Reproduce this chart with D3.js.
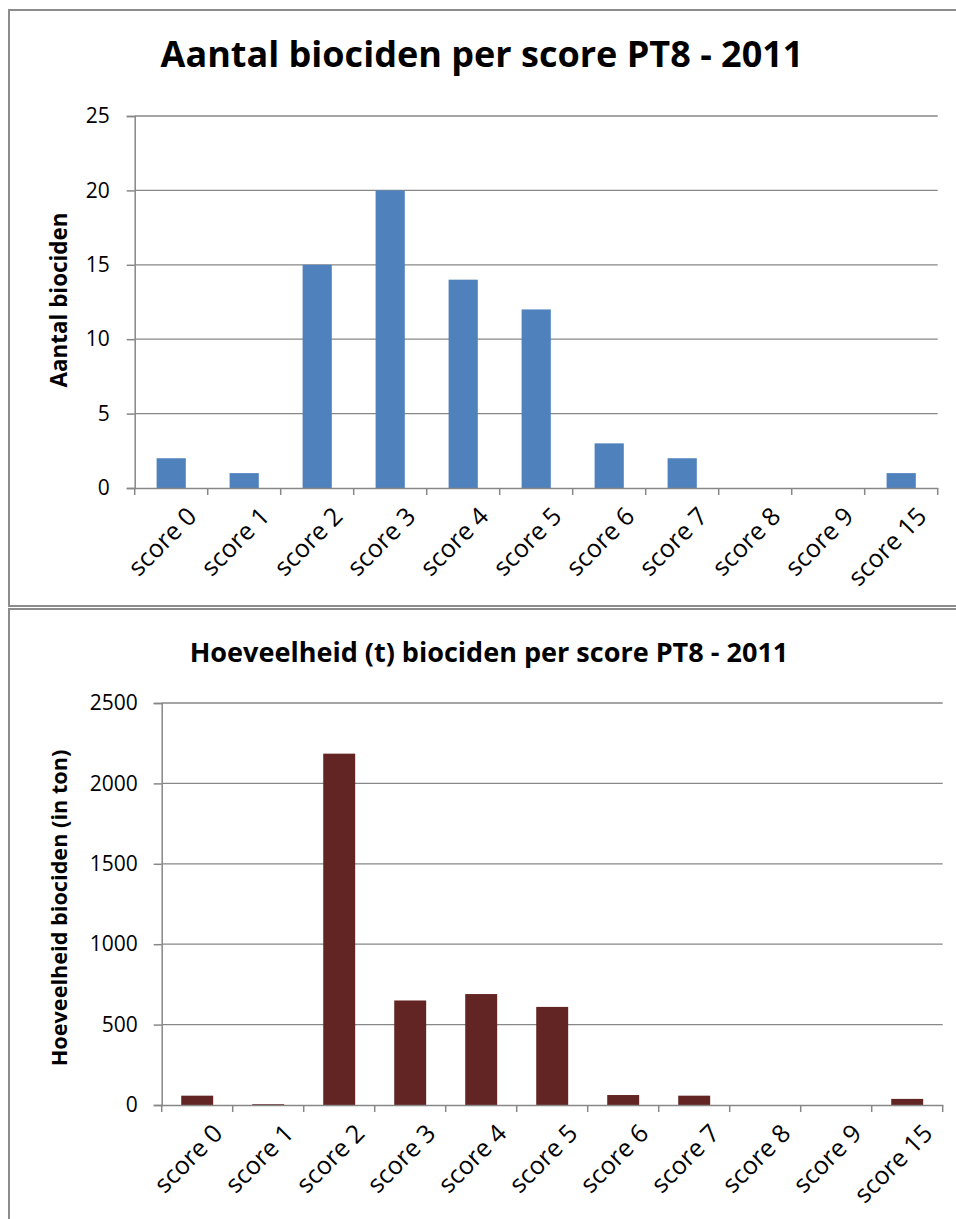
<!DOCTYPE html>
<html><head><meta charset="utf-8">
<script src="https://cdn.jsdelivr.net/npm/d3@7"></script>
<style>
html,body{margin:0;padding:0;background:#fff;}
svg{display:block;}
text{font-family:"Open Sans","Liberation Sans",sans-serif;fill:#000;}
</style></head>
<body>
<script>
const categories = ["score 0","score 1","score 2","score 3","score 4","score 5","score 6","score 7","score 8","score 9","score 15"];
const countValues = [2,1,15,20,14,12,3,2,0,0,1];
const tonValues = [58,5,2185,650,690,610,62,58,0,0,38];
const countTicks = [0,5,10,15,20,25];
const tonTicks = [0,500,1000,1500,2000,2500];

const W = 956, H = 1219;
const svg = d3.select("body").append("svg").attr("width", W).attr("height", H);

function fitText(sel, target) {
  const node = sel.node();
  const len = node.getComputedTextLength();
  const fs = parseFloat(sel.attr("font-size"));
  sel.attr("font-size", fs * target / len);
  return fs * target / len;
}

function drawChart(cfg) {
  const g = svg.append("g");
  g.append("rect").attr("x", 9).attr("y", cfg.boxTop).attr("width", 1000).attr("height", cfg.boxH)
    .attr("fill", "#fff").attr("stroke", "#8c8c8c").attr("stroke-width", 2);

  const x = d3.scaleBand().domain(categories).range([cfg.left, cfg.right]).paddingInner(0).paddingOuter(0);
  const y = d3.scaleLinear().domain([0, cfg.max]).range([cfg.bottom, cfg.top]);

  g.append("g").selectAll("line").data(cfg.ticks.filter(t => t > 0)).join("line")
    .attr("x1", cfg.left).attr("x2", cfg.right)
    .attr("y1", d => y(d)).attr("y2", d => y(d))
    .attr("stroke", "#878787").attr("stroke-width", 1.3);

  const bw = x.bandwidth() * cfg.barFrac;
  g.append("g").selectAll("rect").data(cfg.values).join("rect")
    .attr("x", (d, i) => x(categories[i]) + (x.bandwidth() - bw) / 2)
    .attr("width", bw)
    .attr("y", d => y(d))
    .attr("height", d => y(0) - y(d))
    .attr("fill", cfg.color);

  const ya = d3.axisLeft(y).tickValues(cfg.ticks).tickSize(8).tickPadding(cfg.tickPad).tickFormat(d3.format("d"));
  const yg = g.append("g").attr("transform", `translate(${cfg.left},0)`).call(ya);
  yg.attr("font-size", null).attr("font-family", null);
  yg.select(".domain").attr("stroke", "#878787").attr("stroke-width", 1.5);
  yg.selectAll(".tick line").attr("stroke", "#878787").attr("stroke-width", 1.5);
  yg.selectAll(".tick text").style("font-size", "21px").attr("fill", "#000");

  const xa = d3.axisBottom(x).tickSize(0).tickFormat("");
  const xg = g.append("g").attr("transform", `translate(0,${cfg.bottom})`).call(xa);
  xg.select(".domain").attr("stroke", "#878787").attr("stroke-width", 1.5);
  const bounds = categories.map(c => x(c)).concat([cfg.right]);
  g.append("g").selectAll("line").data(bounds).join("line")
    .attr("x1", d => d).attr("x2", d => d)
    .attr("y1", cfg.bottom).attr("y2", cfg.bottom + 7)
    .attr("stroke", "#878787").attr("stroke-width", 1.5);

  const probe = g.append("text").attr("font-size", 20).text(categories[0]);
  const lfs = fitText(probe, 84);
  probe.remove();

  g.append("g").selectAll("text").data(categories).join("text")
    .attr("transform", d => `translate(${x(d) + x.bandwidth() / 2 + 27},${cfg.bottom + 30}) rotate(-45)`)
    .attr("text-anchor", "end")
    .attr("font-size", lfs)
    .text(d => d);

  const t = g.append("text").attr("x", cfg.titleX).attr("y", cfg.titleY)
    .attr("text-anchor", "middle").attr("font-weight", "bold")
    .attr("font-size", cfg.titleSize).text(cfg.title);
  fitText(t, cfg.titleW);

  const yt = g.append("text")
    .attr("transform", `translate(${cfg.yTitleX},${cfg.yTitleY}) rotate(-90)`)
    .attr("text-anchor", "middle").attr("font-weight", "bold")
    .attr("font-size", 18).text(cfg.yTitle);
  fitText(yt, cfg.yTitleW);
}

drawChart({
  boxTop: 10, boxH: 596,
  left: 134.7, right: 937.7, top: 116, bottom: 488, max: 25, tickPad: 17,
  ticks: countTicks, values: countValues, color: "#4f81bd", barFrac: 0.4,
  title: "Aantal biociden per score PT8 - 2011", titleX: 482, titleY: 67, titleSize: 36, titleW: 643,
  yTitle: "Aantal biociden", yTitleX: 67, yTitleY: 300, yTitleW: 175
});

drawChart({
  boxTop: 609, boxH: 640,
  left: 161.7, right: 942.7, top: 703, bottom: 1105, max: 2500, tickPad: 16,
  ticks: tonTicks, values: tonValues, color: "#632523", barFrac: 0.45,
  title: "Hoeveelheid (t) biociden per score PT8 - 2011", titleX: 489, titleY: 662, titleSize: 24, titleW: 599,
  yTitle: "Hoeveelheid biociden (in ton)", yTitleX: 67, yTitleY: 908, yTitleW: 317
});
</script>
</body></html>
